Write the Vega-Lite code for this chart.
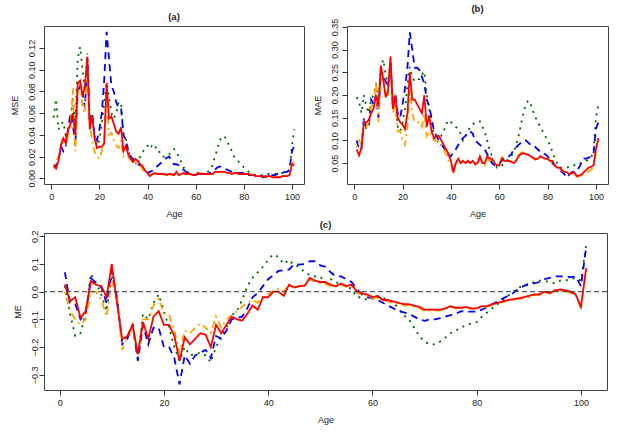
{
"$schema": "https://vega.github.io/schema/vega-lite/v6.json",
"padding": {"left": 9, "top": 3, "right": 5, "bottom": 2},
"background": "white",
"spacing": 0,
"align": "none",
"vconcat": [
{"hconcat": [
{"width": 260, "height": 158, "title": "(a)",
"data": {"values": [
{"x":1,"r":0.011,"o":0.012,"b":0.013,"g":0.056},
{"x":2,"r":0.009,"o":0.015,"b":0.011,"g":0.073},
{"x":3,"r":0.016,"o":0.02,"b":0.016,"g":0.045},
{"x":4,"r":0.03,"o":0.03,"b":0.03,"g":0.05},
{"x":5,"r":0.037,"o":0.035,"b":0.025,"g":0.052},
{"x":6,"r":0.033,"o":0.03,"b":0.029,"g":0.04},
{"x":7,"r":0.045,"o":0.04,"b":0.045,"g":0.045},
{"x":8,"r":0.05,"o":0.045,"b":0.06,"g":0.05},
{"x":9,"r":0.06,"o":0.083,"b":0.05,"g":0.075},
{"x":10,"r":0.04,"o":0.025,"b":0.03,"g":0.045},
{"x":11,"r":0.088,"o":0.08,"b":0.08,"g":0.11},
{"x":12,"r":0.09,"o":0.09,"b":0.085,"g":0.121},
{"x":13,"r":0.075,"o":0.065,"b":0.08,"g":0.1},
{"x":14,"r":0.085,"o":0.06,"b":0.065,"g":0.08},
{"x":15,"r":0.112,"o":0.1,"b":0.11,"g":0.115},
{"x":16,"r":0.045,"o":0.05,"b":0.05,"g":0.06},
{"x":17,"r":0.058,"o":0.035,"b":0.06,"g":0.055},
{"x":18,"r":0.037,"o":0.025,"b":0.04,"g":0.04},
{"x":19,"r":0.028,"o":0.02,"b":0.035,"g":0.03},
{"x":20,"r":0.029,"o":0.018,"b":0.045,"g":0.035},
{"x":21,"r":0.029,"o":0.025,"b":0.06,"g":0.05},
{"x":22,"r":0.032,"o":0.035,"b":0.09,"g":0.07},
{"x":23,"r":0.088,"o":0.07,"b":0.135,"g":0.088},
{"x":24,"r":0.055,"o":0.04,"b":0.11,"g":0.075},
{"x":25,"r":0.057,"o":0.042,"b":0.085,"g":0.06},
{"x":26,"r":0.05,"o":0.035,"b":0.08,"g":0.055},
{"x":27,"r":0.043,"o":0.03,"b":0.07,"g":0.06},
{"x":28,"r":0.041,"o":0.028,"b":0.065,"g":0.07},
{"x":29,"r":0.047,"o":0.035,"b":0.065,"g":0.07},
{"x":30,"r":0.025,"o":0.02,"b":0.04,"g":0.04},
{"x":31,"r":0.03,"o":0.022,"b":0.035,"g":0.037},
{"x":32,"r":0.022,"o":0.02,"b":0.025,"g":0.025},
{"x":33,"r":0.018,"o":0.017,"b":0.02,"g":0.02},
{"x":34,"r":0.015,"o":0.015,"b":0.018,"g":0.015},
{"x":35,"r":0.018,"o":0.015,"b":0.015,"g":0.013},
{"x":36,"r":0.016,"o":0.014,"b":0.013,"g":0.017},
{"x":37,"r":0.013,"o":0.012,"b":0.012,"g":0.02},
{"x":38,"r":0.011,"o":0.008,"b":0.01,"g":0.024},
{"x":39,"r":0.007,"o":0.005,"b":0.008,"g":0.028},
{"x":40,"r":0.005,"o":0.004,"b":0.005,"g":0.03},
{"x":41,"r":0.002,"o":0.003,"b":0.006,"g":0.027},
{"x":42,"r":0.004,"o":0.004,"b":0.007,"g":0.031},
{"x":43,"r":0.005,"o":0.004,"b":0.009,"g":0.028},
{"x":44,"r":0.004,"o":0.004,"b":0.011,"g":0.029},
{"x":45,"r":0.004,"o":0.004,"b":0.013,"g":0.024},
{"x":46,"r":0.004,"o":0.004,"b":0.015,"g":0.02},
{"x":47,"r":0.004,"o":0.003,"b":0.017,"g":0.02},
{"x":48,"r":0.003,"o":0.004,"b":0.019,"g":0.022},
{"x":49,"r":0.004,"o":0.004,"b":0.02,"g":0.022},
{"x":50,"r":0.004,"o":0.003,"b":0.016,"g":0.025},
{"x":51,"r":0.003,"o":0.003,"b":0.013,"g":0.027},
{"x":52,"r":0.006,"o":0.005,"b":0.013,"g":0.025},
{"x":53,"r":0.003,"o":0.003,"b":0.012,"g":0.02},
{"x":54,"r":0.004,"o":0.004,"b":0.009,"g":0.015},
{"x":55,"r":0.005,"o":0.004,"b":0.008,"g":0.01},
{"x":56,"r":0.004,"o":0.004,"b":0.006,"g":0.007},
{"x":57,"r":0.004,"o":0.004,"b":0.005,"g":0.005},
{"x":58,"r":0.004,"o":0.003,"b":0.004,"g":0.004},
{"x":59,"r":0.003,"o":0.003,"b":0.003,"g":0.003},
{"x":60,"r":0.003,"o":0.003,"b":0.003,"g":0.003},
{"x":61,"r":0.005,"o":0.005,"b":0.004,"g":0.003},
{"x":62,"r":0.004,"o":0.004,"b":0.004,"g":0.004},
{"x":63,"r":0.004,"o":0.004,"b":0.004,"g":0.005},
{"x":64,"r":0.004,"o":0.004,"b":0.004,"g":0.005},
{"x":65,"r":0.004,"o":0.004,"b":0.004,"g":0.006},
{"x":66,"r":0.004,"o":0.004,"b":0.005,"g":0.008},
{"x":67,"r":0.004,"o":0.004,"b":0.006,"g":0.012},
{"x":68,"r":0.006,"o":0.006,"b":0.008,"g":0.02},
{"x":69,"r":0.006,"o":0.006,"b":0.01,"g":0.027},
{"x":70,"r":0.006,"o":0.006,"b":0.011,"g":0.035},
{"x":71,"r":0.006,"o":0.006,"b":0.01,"g":0.038},
{"x":72,"r":0.006,"o":0.006,"b":0.009,"g":0.039},
{"x":73,"r":0.005,"o":0.005,"b":0.008,"g":0.034},
{"x":74,"r":0.005,"o":0.005,"b":0.007,"g":0.03},
{"x":75,"r":0.004,"o":0.004,"b":0.006,"g":0.025},
{"x":76,"r":0.005,"o":0.005,"b":0.005,"g":0.02},
{"x":77,"r":0.005,"o":0.005,"b":0.005,"g":0.018},
{"x":78,"r":0.004,"o":0.004,"b":0.005,"g":0.015},
{"x":79,"r":0.004,"o":0.004,"b":0.005,"g":0.013},
{"x":80,"r":0.004,"o":0.004,"b":0.005,"g":0.01},
{"x":81,"r":0.004,"o":0.004,"b":0.004,"g":0.008},
{"x":82,"r":0.004,"o":0.004,"b":0.003,"g":0.006},
{"x":83,"r":0.003,"o":0.003,"b":0.003,"g":0.005},
{"x":84,"r":0.003,"o":0.003,"b":0.003,"g":0.004},
{"x":85,"r":0.002,"o":0.002,"b":0.003,"g":0.003},
{"x":86,"r":0.002,"o":0.002,"b":0.003,"g":0.003},
{"x":87,"r":0.002,"o":0.002,"b":0.002,"g":0.003},
{"x":88,"r":0.002,"o":0.002,"b":0.001,"g":0.003},
{"x":89,"r":0.001,"o":0.001,"b":0.002,"g":0.003},
{"x":90,"r":0.002,"o":0.002,"b":0.003,"g":0.004},
{"x":91,"r":0.002,"o":0.002,"b":0.003,"g":0.004},
{"x":92,"r":0.001,"o":0.001,"b":0.003,"g":0.004},
{"x":93,"r":0.001,"o":0.001,"b":0.003,"g":0.004},
{"x":94,"r":0.001,"o":0.001,"b":0.004,"g":0.004},
{"x":95,"r":0.001,"o":0.001,"b":0.004,"g":0.005},
{"x":96,"r":0.002,"o":0.002,"b":0.005,"g":0.005},
{"x":97,"r":0.002,"o":0.002,"b":0.006,"g":0.005},
{"x":98,"r":0.002,"o":0.002,"b":0.006,"g":0.006},
{"x":99,"r":0.003,"o":0.003,"b":0.008,"g":0.008},
{"x":100,"r":0.013,"o":0.015,"b":0.025,"g":0.03},
{"x":101,"r":0.012,"o":0.014,"b":0.03,"g":0.045}
]},
"transform": [{"fold": ["g","b","o","r"], "as": ["s","v"]}],
"mark": {"type": "line", "clip": true, "strokeWidth": 1.8},
"encoding": {
"x": {"field": "x", "type": "quantitative", "scale": {"domain": [-3,105], "nice": false, "zero": false}, "axis": {"values": [0,20,40,60,80,100], "title": "Age"}},
"y": {"field": "v", "type": "quantitative", "scale": {"domain": [-0.0052,0.1403], "nice": false, "zero": false}, "axis": {"values": [0,0.02,0.04,0.06,0.08,0.1,0.12], "format": ".2f", "title": "MSE", "labelOverlap": false}},
"color": {"field": "s", "type": "nominal", "scale": {"domain": ["g","b","o","r"], "range": ["#006400","#0000FF","#FFA500","#FF0000"]}, "legend": null},
"strokeDash": {"field": "s", "type": "nominal", "scale": {"domain": ["g","b","o","r"], "range": [[2,5],[7,5],[2,4,7,4],[1,0]]}, "legend": null}
}},
{"width": 261, "height": 158, "title": "(b)",
"data": {"values": [
{"x":1,"r":0.08,"o":0.085,"b":0.1,"g":0.195},
{"x":2,"r":0.067,"o":0.1,"b":0.08,"g":0.185},
{"x":3,"r":0.085,"o":0.09,"b":0.08,"g":0.16},
{"x":4,"r":0.14,"o":0.14,"b":0.15,"g":0.2},
{"x":5,"r":0.14,"o":0.13,"b":0.125,"g":0.175},
{"x":6,"r":0.145,"o":0.14,"b":0.13,"g":0.16},
{"x":7,"r":0.16,"o":0.175,"b":0.19,"g":0.19},
{"x":8,"r":0.17,"o":0.18,"b":0.18,"g":0.2},
{"x":9,"r":0.2,"o":0.23,"b":0.2,"g":0.225},
{"x":10,"r":0.175,"o":0.14,"b":0.15,"g":0.18},
{"x":11,"r":0.265,"o":0.24,"b":0.255,"g":0.26},
{"x":12,"r":0.235,"o":0.23,"b":0.24,"g":0.278},
{"x":13,"r":0.195,"o":0.2,"b":0.23,"g":0.245},
{"x":14,"r":0.21,"o":0.2,"b":0.22,"g":0.22},
{"x":15,"r":0.285,"o":0.27,"b":0.275,"g":0.268},
{"x":16,"r":0.17,"o":0.16,"b":0.17,"g":0.185},
{"x":17,"r":0.2,"o":0.18,"b":0.2,"g":0.19},
{"x":18,"r":0.15,"o":0.12,"b":0.16,"g":0.13},
{"x":19,"r":0.14,"o":0.12,"b":0.15,"g":0.12},
{"x":20,"r":0.135,"o":0.1,"b":0.18,"g":0.14},
{"x":21,"r":0.125,"o":0.09,"b":0.215,"g":0.17},
{"x":22,"r":0.16,"o":0.13,"b":0.26,"g":0.22},
{"x":23,"r":0.25,"o":0.215,"b":0.338,"g":0.262},
{"x":24,"r":0.19,"o":0.16,"b":0.3,"g":0.24},
{"x":25,"r":0.19,"o":0.14,"b":0.26,"g":0.23},
{"x":26,"r":0.18,"o":0.14,"b":0.26,"g":0.235},
{"x":27,"r":0.17,"o":0.14,"b":0.255,"g":0.235},
{"x":28,"r":0.16,"o":0.13,"b":0.24,"g":0.245},
{"x":29,"r":0.2,"o":0.16,"b":0.225,"g":0.252},
{"x":30,"r":0.13,"o":0.11,"b":0.19,"g":0.2},
{"x":31,"r":0.155,"o":0.12,"b":0.175,"g":0.17},
{"x":32,"r":0.12,"o":0.11,"b":0.15,"g":0.14},
{"x":33,"r":0.105,"o":0.1,"b":0.12,"g":0.11},
{"x":34,"r":0.11,"o":0.1,"b":0.11,"g":0.095},
{"x":35,"r":0.11,"o":0.095,"b":0.1,"g":0.1},
{"x":36,"r":0.1,"o":0.09,"b":0.09,"g":0.11},
{"x":37,"r":0.09,"o":0.08,"b":0.085,"g":0.12},
{"x":38,"r":0.08,"o":0.07,"b":0.075,"g":0.135},
{"x":39,"r":0.07,"o":0.055,"b":0.068,"g":0.145},
{"x":40,"r":0.055,"o":0.05,"b":0.065,"g":0.14},
{"x":41,"r":0.03,"o":0.025,"b":0.075,"g":0.135},
{"x":42,"r":0.05,"o":0.05,"b":0.08,"g":0.13},
{"x":43,"r":0.06,"o":0.055,"b":0.09,"g":0.125},
{"x":44,"r":0.05,"o":0.05,"b":0.1,"g":0.115},
{"x":45,"r":0.055,"o":0.05,"b":0.105,"g":0.1},
{"x":46,"r":0.05,"o":0.05,"b":0.11,"g":0.11},
{"x":47,"r":0.055,"o":0.055,"b":0.115,"g":0.12},
{"x":48,"r":0.05,"o":0.05,"b":0.12,"g":0.13},
{"x":49,"r":0.055,"o":0.05,"b":0.115,"g":0.135},
{"x":50,"r":0.048,"o":0.045,"b":0.1,"g":0.14},
{"x":51,"r":0.05,"o":0.048,"b":0.095,"g":0.14},
{"x":52,"r":0.065,"o":0.06,"b":0.09,"g":0.142},
{"x":53,"r":0.05,"o":0.05,"b":0.085,"g":0.13},
{"x":54,"r":0.05,"o":0.045,"b":0.08,"g":0.12},
{"x":55,"r":0.065,"o":0.06,"b":0.07,"g":0.1},
{"x":56,"r":0.06,"o":0.055,"b":0.06,"g":0.08},
{"x":57,"r":0.06,"o":0.058,"b":0.05,"g":0.065},
{"x":58,"r":0.05,"o":0.048,"b":0.045,"g":0.05},
{"x":59,"r":0.045,"o":0.045,"b":0.045,"g":0.04},
{"x":60,"r":0.045,"o":0.045,"b":0.05,"g":0.04},
{"x":61,"r":0.06,"o":0.065,"b":0.055,"g":0.045},
{"x":62,"r":0.055,"o":0.055,"b":0.06,"g":0.048},
{"x":63,"r":0.055,"o":0.055,"b":0.06,"g":0.055},
{"x":64,"r":0.055,"o":0.055,"b":0.065,"g":0.06},
{"x":65,"r":0.053,"o":0.052,"b":0.07,"g":0.065},
{"x":66,"r":0.05,"o":0.05,"b":0.08,"g":0.075},
{"x":67,"r":0.055,"o":0.058,"b":0.085,"g":0.09},
{"x":68,"r":0.065,"o":0.068,"b":0.09,"g":0.11},
{"x":69,"r":0.07,"o":0.073,"b":0.095,"g":0.135},
{"x":70,"r":0.072,"o":0.075,"b":0.1,"g":0.16},
{"x":71,"r":0.07,"o":0.07,"b":0.1,"g":0.18},
{"x":72,"r":0.068,"o":0.068,"b":0.095,"g":0.188},
{"x":73,"r":0.065,"o":0.065,"b":0.09,"g":0.18},
{"x":74,"r":0.062,"o":0.06,"b":0.09,"g":0.165},
{"x":75,"r":0.058,"o":0.058,"b":0.085,"g":0.15},
{"x":76,"r":0.06,"o":0.062,"b":0.08,"g":0.14},
{"x":77,"r":0.065,"o":0.066,"b":0.075,"g":0.13},
{"x":78,"r":0.062,"o":0.062,"b":0.07,"g":0.12},
{"x":79,"r":0.06,"o":0.06,"b":0.07,"g":0.11},
{"x":80,"r":0.06,"o":0.058,"b":0.065,"g":0.1},
{"x":81,"r":0.055,"o":0.055,"b":0.058,"g":0.09},
{"x":82,"r":0.055,"o":0.052,"b":0.05,"g":0.075},
{"x":83,"r":0.045,"o":0.045,"b":0.045,"g":0.06},
{"x":84,"r":0.04,"o":0.04,"b":0.04,"g":0.05},
{"x":85,"r":0.04,"o":0.038,"b":0.035,"g":0.04},
{"x":86,"r":0.035,"o":0.033,"b":0.03,"g":0.04},
{"x":87,"r":0.03,"o":0.03,"b":0.025,"g":0.04},
{"x":88,"r":0.03,"o":0.028,"b":0.018,"g":0.04},
{"x":89,"r":0.025,"o":0.025,"b":0.025,"g":0.042},
{"x":90,"r":0.028,"o":0.025,"b":0.03,"g":0.045},
{"x":91,"r":0.03,"o":0.028,"b":0.032,"g":0.045},
{"x":92,"r":0.022,"o":0.02,"b":0.035,"g":0.05},
{"x":93,"r":0.022,"o":0.018,"b":0.04,"g":0.05},
{"x":94,"r":0.025,"o":0.022,"b":0.05,"g":0.05},
{"x":95,"r":0.03,"o":0.025,"b":0.06,"g":0.052},
{"x":96,"r":0.035,"o":0.028,"b":0.06,"g":0.055},
{"x":97,"r":0.04,"o":0.032,"b":0.062,"g":0.058},
{"x":98,"r":0.042,"o":0.036,"b":0.065,"g":0.062},
{"x":99,"r":0.045,"o":0.04,"b":0.07,"g":0.075},
{"x":100,"r":0.08,"o":0.075,"b":0.125,"g":0.15},
{"x":101,"r":0.105,"o":0.1,"b":0.14,"g":0.178}
]},
"transform": [{"fold": ["g","b","o","r"], "as": ["s","v"]}],
"mark": {"type": "line", "clip": true, "strokeWidth": 1.8},
"encoding": {
"x": {"field": "x", "type": "quantitative", "scale": {"domain": [-3,105], "nice": false, "zero": false}, "axis": {"values": [0,20,40,60,80,100], "title": "Age"}},
"y": {"field": "v", "type": "quantitative", "scale": {"domain": [0.004,0.352], "nice": false, "zero": false}, "axis": {"values": [0.05,0.1,0.15,0.2,0.25,0.3,0.35], "format": ".2f", "title": "MAE", "labelOverlap": false}},
"color": {"field": "s", "type": "nominal", "scale": {"domain": ["g","b","o","r"], "range": ["#006400","#0000FF","#FFA500","#FF0000"]}, "legend": null},
"strokeDash": {"field": "s", "type": "nominal", "scale": {"domain": ["g","b","o","r"], "range": [[2,5],[7,5],[2,4,7,4],[1,0]]}, "legend": null}
}}
], "spacing": 43, "bounds": "flush"},
{"width": 563, "height": 157, "title": {"text": "(c)", "offset": 1},
"layer": [
{"data": {"values": [
{"x":1,"r":0.026,"o":0,"b":0.07,"g":0.02},
{"x":2,"r":-0.034,"o":-0.07,"b":-0.04,"g":-0.08},
{"x":3,"r":-0.02,"o":-0.1,"b":-0.045,"g":-0.16},
{"x":4,"r":-0.094,"o":-0.12,"b":-0.1,"g":-0.15},
{"x":5,"r":-0.07,"o":-0.1,"b":-0.08,"g":-0.08},
{"x":6,"r":0.038,"o":0,"b":0.05,"g":0.065},
{"x":7,"r":0.025,"o":0,"b":0.03,"g":0.03},
{"x":8,"r":0.02,"o":-0.03,"b":0.015,"g":-0.01},
{"x":9,"r":-0.02,"o":-0.09,"b":-0.04,"g":-0.07},
{"x":10,"r":0.1,"o":0.04,"b":0.075,"g":0.06},
{"x":11,"r":-0.04,"o":-0.02,"b":-0.02,"g":-0.03},
{"x":12,"r":-0.172,"o":-0.21,"b":-0.19,"g":-0.18},
{"x":13,"r":-0.16,"o":-0.16,"b":-0.17,"g":-0.16},
{"x":14,"r":-0.12,"o":-0.13,"b":-0.12,"g":-0.12},
{"x":15,"r":-0.226,"o":-0.22,"b":-0.25,"g":-0.24},
{"x":16,"r":-0.11,"o":-0.1,"b":-0.12,"g":-0.08},
{"x":17,"r":-0.17,"o":-0.1,"b":-0.19,"g":-0.1},
{"x":18,"r":-0.09,"o":-0.05,"b":-0.13,"g":-0.04},
{"x":19,"r":-0.07,"o":-0.025,"b":-0.13,"g":-0.01},
{"x":20,"r":-0.12,"o":-0.08,"b":-0.2,"g":-0.07},
{"x":21,"r":-0.12,"o":-0.085,"b":-0.2,"g":-0.13},
{"x":22,"r":-0.16,"o":-0.14,"b":-0.24,"g":-0.2},
{"x":23,"r":-0.25,"o":-0.22,"b":-0.335,"g":-0.25},
{"x":24,"r":-0.165,"o":-0.14,"b":-0.23,"g":-0.2},
{"x":25,"r":-0.19,"o":-0.15,"b":-0.26,"g":-0.23},
{"x":26,"r":-0.17,"o":-0.13,"b":-0.23,"g":-0.225},
{"x":27,"r":-0.15,"o":-0.115,"b":-0.22,"g":-0.22},
{"x":28,"r":-0.155,"o":-0.13,"b":-0.21,"g":-0.23},
{"x":29,"r":-0.2,"o":-0.15,"b":-0.24,"g":-0.255},
{"x":30,"r":-0.12,"o":-0.09,"b":-0.16,"g":-0.2},
{"x":31,"r":-0.15,"o":-0.13,"b":-0.17,"g":-0.16},
{"x":32,"r":-0.12,"o":-0.1,"b":-0.14,"g":-0.13},
{"x":33,"r":-0.09,"o":-0.085,"b":-0.1,"g":-0.085},
{"x":34,"r":-0.1,"o":-0.07,"b":-0.095,"g":-0.07},
{"x":35,"r":-0.105,"o":-0.055,"b":-0.09,"g":-0.03},
{"x":36,"r":-0.08,"o":-0.04,"b":-0.06,"g":0.02},
{"x":37,"r":-0.05,"o":-0.03,"b":-0.02,"g":0.05},
{"x":38,"r":-0.065,"o":-0.04,"b":-0.005,"g":0.07},
{"x":39,"r":-0.02,"o":-0.02,"b":0.02,"g":0.09},
{"x":40,"r":-0.02,"o":-0.01,"b":0.045,"g":0.115},
{"x":41,"r":0,"o":0.005,"b":0.06,"g":0.135},
{"x":42,"r":0,"o":0.01,"b":0.075,"g":0.125},
{"x":43,"r":-0.015,"o":0,"b":0.078,"g":0.1},
{"x":44,"r":0.025,"o":0.025,"b":0.08,"g":0.115},
{"x":45,"r":0.015,"o":0.015,"b":0.1,"g":0.095},
{"x":46,"r":0.02,"o":0.02,"b":0.098,"g":0.09},
{"x":47,"r":0.022,"o":0.02,"b":0.1,"g":0.07},
{"x":48,"r":0.05,"o":0.045,"b":0.11,"g":0.06},
{"x":49,"r":0.04,"o":0.035,"b":0.11,"g":0.055},
{"x":50,"r":0.035,"o":0.03,"b":0.095,"g":0.055},
{"x":51,"r":0.035,"o":0.028,"b":0.09,"g":0.03},
{"x":52,"r":0.025,"o":0.02,"b":0.07,"g":0.045},
{"x":53,"r":0.02,"o":0.018,"b":0.055,"g":0.035},
{"x":54,"r":0.03,"o":0.025,"b":0.055,"g":0.025},
{"x":55,"r":0.02,"o":0.018,"b":0.045,"g":0.02},
{"x":56,"r":0.025,"o":0.02,"b":0.035,"g":0.01},
{"x":57,"r":0.002,"o":-0.005,"b":0.01,"g":-0.02},
{"x":58,"r":-0.005,"o":-0.01,"b":-0.01,"g":-0.02},
{"x":59,"r":-0.01,"o":-0.015,"b":-0.02,"g":-0.03},
{"x":60,"r":-0.02,"o":-0.025,"b":-0.025,"g":-0.015},
{"x":61,"r":-0.015,"o":-0.02,"b":-0.03,"g":-0.02},
{"x":62,"r":-0.03,"o":-0.035,"b":-0.04,"g":-0.02},
{"x":63,"r":-0.03,"o":-0.035,"b":-0.05,"g":-0.035},
{"x":64,"r":-0.035,"o":-0.04,"b":-0.06,"g":-0.04},
{"x":65,"r":-0.04,"o":-0.045,"b":-0.07,"g":-0.06},
{"x":66,"r":-0.045,"o":-0.05,"b":-0.075,"g":-0.085},
{"x":67,"r":-0.045,"o":-0.05,"b":-0.08,"g":-0.1},
{"x":68,"r":-0.05,"o":-0.055,"b":-0.09,"g":-0.13},
{"x":69,"r":-0.055,"o":-0.06,"b":-0.1,"g":-0.16},
{"x":70,"r":-0.065,"o":-0.07,"b":-0.105,"g":-0.18},
{"x":71,"r":-0.065,"o":-0.068,"b":-0.1,"g":-0.19},
{"x":72,"r":-0.065,"o":-0.068,"b":-0.1,"g":-0.19},
{"x":73,"r":-0.065,"o":-0.068,"b":-0.095,"g":-0.18},
{"x":74,"r":-0.06,"o":-0.062,"b":-0.09,"g":-0.165},
{"x":75,"r":-0.052,"o":-0.055,"b":-0.085,"g":-0.15},
{"x":76,"r":-0.058,"o":-0.06,"b":-0.08,"g":-0.14},
{"x":77,"r":-0.058,"o":-0.06,"b":-0.07,"g":-0.13},
{"x":78,"r":-0.055,"o":-0.058,"b":-0.072,"g":-0.12},
{"x":79,"r":-0.06,"o":-0.062,"b":-0.072,"g":-0.115},
{"x":80,"r":-0.06,"o":-0.062,"b":-0.072,"g":-0.11},
{"x":81,"r":-0.052,"o":-0.055,"b":-0.065,"g":-0.09},
{"x":82,"r":-0.052,"o":-0.055,"b":-0.055,"g":-0.075},
{"x":83,"r":-0.045,"o":-0.048,"b":-0.045,"g":-0.06},
{"x":84,"r":-0.04,"o":-0.042,"b":-0.035,"g":-0.045},
{"x":85,"r":-0.035,"o":-0.038,"b":-0.025,"g":-0.03},
{"x":86,"r":-0.03,"o":-0.032,"b":-0.015,"g":-0.015},
{"x":87,"r":-0.027,"o":-0.03,"b":-0.005,"g":0},
{"x":88,"r":-0.024,"o":-0.027,"b":0.01,"g":0.015},
{"x":89,"r":-0.02,"o":-0.022,"b":0.02,"g":0.02},
{"x":90,"r":-0.015,"o":-0.02,"b":0.03,"g":0.025},
{"x":91,"r":-0.01,"o":-0.012,"b":0.03,"g":0.035},
{"x":92,"r":-0.01,"o":-0.012,"b":0.035,"g":0.04},
{"x":93,"r":0,"o":-0.002,"b":0.045,"g":0.04},
{"x":94,"r":-0.005,"o":-0.008,"b":0.05,"g":0.035},
{"x":95,"r":0.005,"o":0.003,"b":0.055,"g":0.03},
{"x":96,"r":0.008,"o":0.005,"b":0.055,"g":0.04},
{"x":97,"r":0.005,"o":0.002,"b":0.055,"g":0.04},
{"x":98,"r":0,"o":-0.005,"b":0.053,"g":0.045},
{"x":99,"r":-0.01,"o":-0.012,"b":0.055,"g":0.05},
{"x":100,"r":-0.055,"o":-0.06,"b":0.02,"g":0.04},
{"x":101,"r":0.085,"o":0.08,"b":0.16,"g":0.17}
]},
"transform": [{"fold": ["g","b","o","r"], "as": ["s","v"]}],
"mark": {"type": "line", "clip": true, "strokeWidth": 1.8},
"encoding": {
"x": {"field": "x", "type": "quantitative", "scale": {"domain": [-3,105], "nice": false, "zero": false}, "axis": {"values": [0,20,40,60,80,100], "title": "Age"}},
"y": {"field": "v", "type": "quantitative", "scale": {"domain": [-0.355,0.212], "nice": false, "zero": false}, "axis": {"values": [-0.3,-0.2,-0.1,0,0.1,0.2], "format": ".1f", "title": "ME", "labelOverlap": false, "labelPadding": 2}},
"color": {"field": "s", "type": "nominal", "scale": {"domain": ["g","b","o","r"], "range": ["#006400","#0000FF","#FFA500","#FF0000"]}, "legend": null},
"strokeDash": {"field": "s", "type": "nominal", "scale": {"domain": ["g","b","o","r"], "range": [[2,5],[7,5],[2,4,7,4],[1,0]]}, "legend": null}
}},
{"data": {"values": [{}]},
"mark": {"type": "rule", "strokeDash": [5,3], "color": "#333", "strokeWidth": 1},
"encoding": {"y": {"datum": 0, "type": "quantitative", "axis": {"values": [-0.3,-0.2,-0.1,0,0.1,0.2], "format": ".1f", "title": "ME", "labelOverlap": false, "labelPadding": 2}}}}
]}
],
"config": {
"view": {"stroke": "#444", "strokeWidth": 1},
"font": "Liberation Sans",
"axis": {"domain": false, "grid": false, "ticks": true, "tickSize": 5, "tickColor": "#333", "labelColor": "#222", "labelFontSize": 9, "titleFontSize": 9, "titleFontWeight": "normal", "titleColor": "#222", "labelFont": "Liberation Sans", "titleFont": "Liberation Sans"},
"axisX": {"labelPadding": 3, "titlePadding": 8},
"axisY": {"labelAngle": 270, "labelAlign": "center", "labelBaseline": "alphabetic", "labelPadding": 5, "titlePadding": 8},
"title": {"fontSize": 9.5, "fontWeight": "bold", "offset": 5, "anchor": "middle", "font": "Liberation Sans", "color": "#222"},
"legend": {"disable": true}
}
}
